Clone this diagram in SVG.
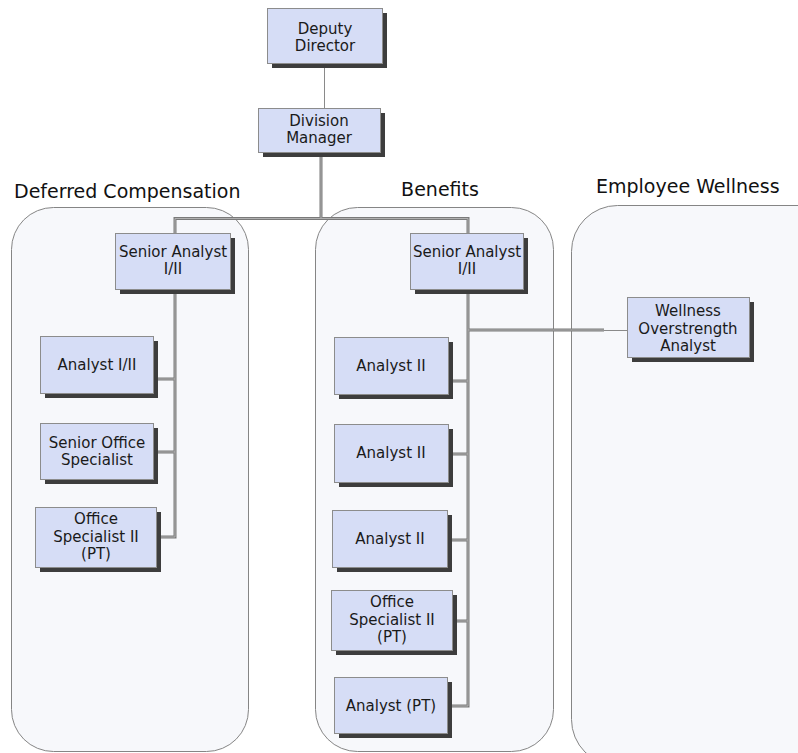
<svg xmlns="http://www.w3.org/2000/svg" width="798" height="753" viewBox="0 0 798 753">
<defs>
<filter id="sh" x="-10%" y="-10%" width="130%" height="140%">
<feGaussianBlur stdDeviation="0.7"/>
</filter>
</defs>
<style>
.cont{fill:#f7f8fb;stroke:#858585;stroke-width:1}
.title{font-family:"DejaVu Sans",Verdana,sans-serif;font-size:19px;fill:#111}
.box{fill:#d6ddf6;stroke:#8c8c8c;stroke-width:1}
.shadow{fill:#3c3c3c;filter:url(#sh)}
.lbl{font-family:"DejaVu Sans",Verdana,sans-serif;font-size:15px;fill:#1a1a1a;text-anchor:middle}
.thick{fill:none;stroke:#7a7a7a;stroke-width:3}
.thin{fill:none;stroke:#8a8a8a;stroke-width:1}
.hl{fill:none;stroke:#b0b0b0;stroke-width:1}
</style>
<rect width="798" height="753" fill="#ffffff"/>
<g id="containers">
<g id="deferred-compensation">
<rect class="cont" x="11.5" y="207.5" width="237" height="544" rx="42" ry="42"/>
<text class="title" x="14" y="198">Deferred Compensation</text>
</g>
<g id="benefits">
<rect class="cont" x="315.5" y="207.5" width="238" height="544" rx="42" ry="42"/>
<text class="title" x="440" y="196" text-anchor="middle">Benefits</text>
</g>
<g id="employee-wellness">
<rect class="cont" x="571.5" y="205.5" width="280" height="560" rx="46" ry="46"/>
<text class="title" x="596" y="193">Employee Wellness</text>
</g>
</g>
<g id="connectors">
<path class="thin" d="M324.5 63V108"/>
<path class="thick" d="M321 152V218.5M175 233V218.5H468V233"/>
<path class="thick" d="M175 289V537H156M153 379H175M153 452H175"/>
<path class="thick" d="M468 289V706H447M448 381H468M447 454H468M447 540H468M452 621H468M468 330H604"/>
<path class="thin" d="M604 330.5H627"/>
<path class="hl" d="M321 152V218.5M175 233V218.5H468V233M175 289V537H156M153 379H175M153 452H175M468 289V706H447M448 381H468M447 454H468M447 540H468M452 621H468M468 330H604"/>
</g>
<g id="deputy-director">
<rect class="shadow" x="272" y="13" width="115" height="55"/>
<rect class="box" x="267.5" y="8.5" width="115" height="55"/>
<text class="lbl" x="325" y="34">Deputy</text>
<text class="lbl" x="325" y="51">Director</text>
</g>
<g id="division-manager">
<rect class="shadow" x="263" y="113" width="122" height="44"/>
<rect class="box" x="258.5" y="108.5" width="122" height="44"/>
<text class="lbl" x="319" y="126">Division</text>
<text class="lbl" x="319" y="143">Manager</text>
</g>
<g id="dc-senior-analyst">
<rect class="shadow" x="120" y="238" width="115" height="56"/>
<rect class="box" x="115.5" y="233.5" width="115" height="56"/>
<text class="lbl" x="173" y="257">Senior Analyst</text>
<text class="lbl" x="173" y="274">I/II</text>
</g>
<g id="dc-analyst">
<rect class="shadow" x="45" y="341" width="113" height="57"/>
<rect class="box" x="40.5" y="336.5" width="113" height="57"/>
<text class="lbl" x="97" y="370">Analyst I/II</text>
</g>
<g id="dc-senior-office-specialist">
<rect class="shadow" x="45" y="428" width="113" height="56"/>
<rect class="box" x="40.5" y="423.5" width="113" height="56"/>
<text class="lbl" x="97" y="448">Senior Office</text>
<text class="lbl" x="97" y="465">Specialist</text>
</g>
<g id="dc-office-specialist">
<rect class="shadow" x="40" y="512" width="121" height="60"/>
<rect class="box" x="35.5" y="507.5" width="121" height="60"/>
<text class="lbl" x="96" y="524">Office</text>
<text class="lbl" x="96" y="542">Specialist II</text>
<text class="lbl" x="96" y="559">(PT)</text>
</g>
<g id="ben-senior-analyst">
<rect class="shadow" x="415" y="238" width="113" height="56"/>
<rect class="box" x="410.5" y="233.5" width="113" height="56"/>
<text class="lbl" x="467" y="257">Senior Analyst</text>
<text class="lbl" x="467" y="274">I/II</text>
</g>
<g id="ben-analyst-1">
<rect class="shadow" x="339" y="342" width="114" height="57"/>
<rect class="box" x="334.5" y="337.5" width="114" height="57"/>
<text class="lbl" x="391" y="371">Analyst II</text>
</g>
<g id="ben-analyst-2">
<rect class="shadow" x="339" y="429" width="114" height="58"/>
<rect class="box" x="334.5" y="424.5" width="114" height="58"/>
<text class="lbl" x="391" y="458">Analyst II</text>
</g>
<g id="ben-analyst-3">
<rect class="shadow" x="337" y="515" width="115" height="57"/>
<rect class="box" x="332.5" y="510.5" width="115" height="57"/>
<text class="lbl" x="390" y="544">Analyst II</text>
</g>
<g id="ben-office-specialist">
<rect class="shadow" x="336" y="595" width="121" height="60"/>
<rect class="box" x="331.5" y="590.5" width="121" height="60"/>
<text class="lbl" x="392" y="607">Office</text>
<text class="lbl" x="392" y="625">Specialist II</text>
<text class="lbl" x="392" y="642">(PT)</text>
</g>
<g id="ben-analyst-pt">
<rect class="shadow" x="339" y="682" width="113" height="56"/>
<rect class="box" x="334.5" y="677.5" width="113" height="56"/>
<text class="lbl" x="391" y="711">Analyst (PT)</text>
</g>
<g id="wellness-analyst">
<rect class="shadow" x="632" y="302" width="122" height="60"/>
<rect class="box" x="627.5" y="297.5" width="122" height="60"/>
<text class="lbl" x="688" y="316">Wellness</text>
<text class="lbl" x="688" y="334">Overstrength</text>
<text class="lbl" x="688" y="351">Analyst</text>
</g>
</svg>
